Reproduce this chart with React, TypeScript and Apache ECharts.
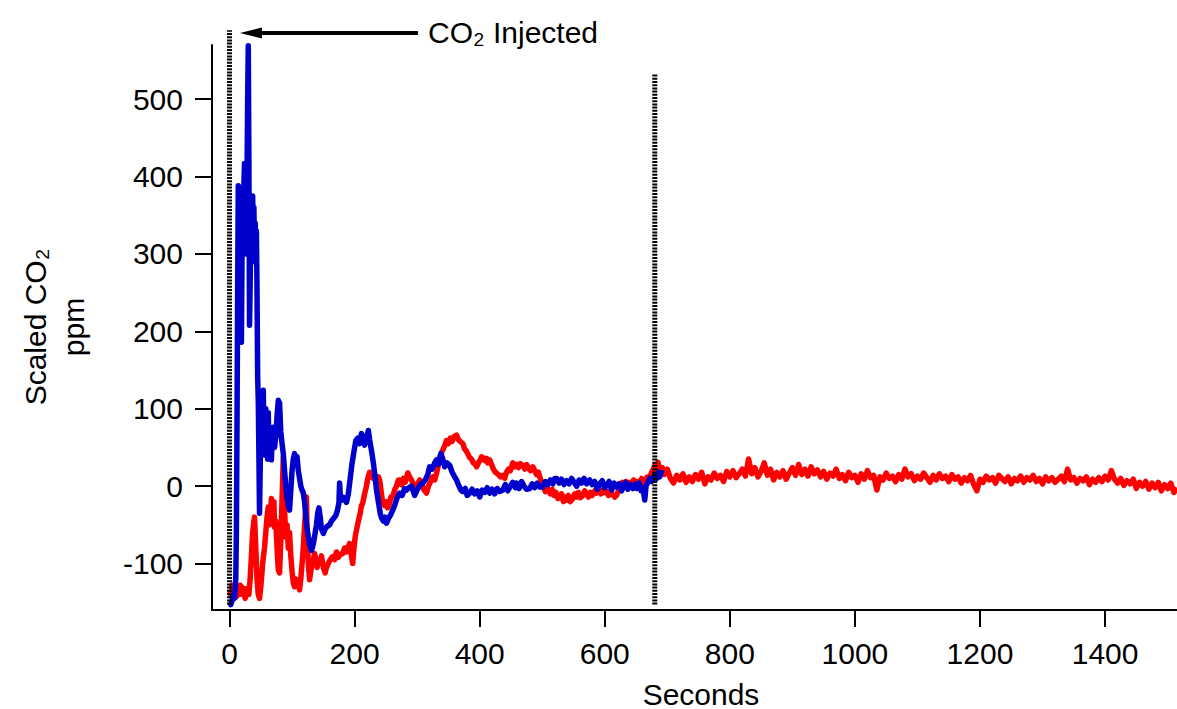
import React, { useEffect, useRef } from "react";
import * as echarts from "echarts";

const xTicks = [0, 200, 400, 600, 800, 1000, 1200, 1400];
const yTicks = [-100, 0, 100, 200, 300, 400, 500];

// Blue trace: [seconds, scaled CO2 ppm]
const blueData: [number, number][] = [
  [0,-150],[2,-153],[4,-148],[6,-140],[8,-145],[10,-120],[11,-60],[12,80],[13,250],[14,388],[15,300],[16,360],[17,250],[18,220],[19,186],[20,300],[21,350],[22,320],[23,390],[24,417],[25,380],[26,410],[27,300],[28,400],[29,500],[30,569],[31,420],[32,208],[33,260],[34,330],[35,300],[36,370],[37,375],[38,330],[39,360],[40,290],[41,340],[42,320],[43,330],[44,250],[45,141],[46,110],[47,40],[48,-35],[49,20],[50,80],[51,110],[52,90],[54,124],[55,60],[56,70],[57,40],[58,100],[59,45],[60,60],[61,35],[62,95],[63,40],[64,50],[65,35],[66,70],[67,34],[68,60],[70,76],[72,50],[74,65],[76,90],[78,111],[79,100],[80,108],[82,70],[84,55],[86,42],[88,20],[90,0],[92,-15],[94,-25],[96,-31],[98,-5],[100,20],[102,35],[104,42],[106,30],[108,38],[110,20],[112,10],[114,0],[116,-5],[118,-9],[120,-20],[122,-40],[124,-55],[126,-65],[128,-75],[130,-80],[131,-83],[133,-78],[135,-70],[137,-60],[139,-50],[141,-35],[143,-28],[145,-40],[147,-55],[150,-61],[153,-55],[156,-52],[160,-50],[163,-45],[166,-42],[170,-38],[173,-30],[175,-21],[176,4],[177,-10],[180,-18],[183,-15],[187,-21],[190,-10],[193,10],[196,30],[199,45],[202,59],[205,62],[208,55],[211,68],[214,60],[216,53],[219,62],[222,72],[224,60],[227,46],[230,30],[233,10],[235,-5],[238,-20],[241,-35],[243,-41],[246,-45],[249,-40],[251,-48],[254,-42],[257,-38],[261,-31],[264,-25],[268,-15],[272,-9],[276,-12],[280,-3],[283,-5],[287,-2],[291,0],[296,-12],[300,-5],[305,2],[309,4],[313,8],[317,15],[320,25],[324,22],[328,30],[331,34],[334,28],[338,42],[341,35],[344,25],[348,30],[352,27],[356,18],[360,12],[363,8],[367,0],[370,-5],[373,-7],[377,-3],[380,-12],[384,-9],[388,-4],[392,-10],[396,-6],[400,-14],[404,-5],[408,-8],[412,-2],[416,-9],[420,-4],[424,-10],[428,-3],[432,-7],[437,-5],[441,2],[445,-6],[449,0],[453,5],[457,-2],[459,4],[463,-3],[467,6],[471,0],[475,-4],[480,-3],[484,3],[488,-2],[492,4],[496,-1],[501,-1],[505,6],[509,2],[513,8],[517,3],[520,10],[523,10],[527,4],[531,9],[535,2],[539,7],[543,3],[547,10],[551,5],[555,0],[559,8],[563,4],[567,10],[571,3],[576,8],[580,2],[584,6],[588,-4],[592,3],[596,7],[600,-2],[603,1],[607,6],[611,-5],[615,4],[619,-1],[623,3],[627,-6],[629,-1],[633,5],[637,-4],[641,2],[645,-3],[649,3],[651,-3],[655,4],[658,-6],[661,-2],[664,-18],[666,0],[669,5],[672,10],[675,6],[678,12],[680,14],[683,10],[686,18],[688,12],[691,21]
];

// Red trace: [seconds, scaled CO2 ppm]
const redData: [number, number][] = [
  [0,-134],[2,-140],[4,-128],[6,-145],[8,-135],[11,-143],[13,-135],[15,-140],[17,-128],[19,-130],[21,-140],[23,-132],[25,-145],[27,-138],[29,-132],[31,-140],[33,-120],[35,-91],[37,-60],[39,-45],[40,-40],[42,-80],[44,-120],[46,-140],[48,-145],[50,-130],[51,-121],[53,-100],[56,-79],[58,-60],[60,-40],[62,-27],[64,-50],[66,-30],[67,-16],[69,-40],[71,-20],[72,-53],[74,-45],[76,-80],[78,-108],[80,-112],[82,-70],[83,-44],[85,10],[86,37],[87,0],[88,-30],[90,-66],[92,-50],[94,-80],[96,-60],[98,-90],[100,-110],[102,-125],[104,-130],[106,-120],[108,-128],[110,-125],[112,-134],[114,-120],[116,-100],[118,-80],[120,-50],[122,-30],[123,-14],[124,-60],[126,-100],[128,-121],[130,-110],[132,-100],[134,-95],[136,-87],[138,-95],[140,-105],[142,-98],[144,-100],[147,-90],[150,-105],[153,-112],[155,-105],[158,-100],[161,-95],[165,-91],[168,-95],[171,-85],[174,-92],[177,-88],[181,-87],[184,-80],[187,-85],[190,-78],[192,-74],[194,-85],[197,-100],[199,-80],[201,-65],[203,-57],[206,-45],[209,-35],[211,-25],[213,-22],[216,-10],[219,0],[221,10],[224,18],[226,12],[228,15],[230,10],[232,14],[235,5],[238,12],[240,8],[243,-10],[245,-22],[248,-25],[251,-20],[253,-28],[256,-22],[258,-14],[261,-14],[264,-5],[267,0],[270,8],[272,8],[275,2],[278,10],[281,5],[285,17],[288,12],[291,8],[293,4],[296,-2],[300,2],[304,8],[307,3],[311,-5],[315,-9],[318,0],[321,5],[325,12],[328,8],[332,20],[336,37],[340,45],[344,52],[347,59],[350,55],[353,62],[356,58],[359,64],[363,66],[366,60],[370,57],[373,55],[376,48],[379,45],[382,40],[384,37],[387,35],[390,30],[393,28],[395,25],[398,30],[401,34],[403,38],[405,37],[408,33],[411,36],[413,30],[416,34],[419,28],[422,22],[425,18],[427,17],[430,15],[433,12],[437,14],[440,10],[443,18],[446,22],[449,20],[453,30],[456,25],[459,28],[462,24],[465,29],[469,27],[472,22],[475,28],[478,24],[481,20],[485,25],[488,20],[491,15],[494,18],[496,12],[499,5],[502,0],[505,-7],[507,-1],[510,-5],[513,-10],[516,-4],[519,-12],[522,-8],[525,-16],[528,-14],[531,-10],[534,-20],[536,-14],[539,-18],[542,-12],[545,-20],[549,-16],[552,-10],[555,-14],[558,-8],[561,-15],[565,-12],[568,-6],[571,-10],[574,-14],[577,-8],[580,-12],[584,-6],[587,-9],[590,-4],[594,-10],[597,-5],[600,-8],[603,-7],[606,-12],[609,-6],[612,-10],[616,-14],[619,-12],[622,-5],[625,0],[628,5],[631,-2],[634,6],[637,2],[640,5],[643,0],[646,8],[649,2],[652,6],[656,5],[659,10],[662,4],[665,8],[668,12],[672,12],[675,18],[678,22],[680,27],[683,20],[685,31],[687,24],[690,18],[692,24],
  [695,15],[700,22],[705,10],[710,4],[715,14],[720,8],[725,16],[730,5],[735,12],[740,6],[745,15],[750,9],[755,18],[760,3],[765,12],[770,8],[775,17],[780,10],[785,14],[790,6],[795,19],[800,12],[805,20],[810,11],[815,16],[820,22],[825,13],[830,35],[835,16],[840,24],[845,12],[850,19],[855,30],[860,14],[865,22],[870,8],[875,18],[880,12],[885,20],[890,9],[895,17],[900,24],[905,14],[910,28],[915,15],[920,22],[925,13],[930,25],[935,16],[940,21],[945,12],[950,19],[955,9],[960,17],[965,13],[970,22],[975,10],[980,15],[985,7],[990,18],[995,11],[1000,14],[1005,5],[1010,16],[1015,9],[1020,20],[1025,11],[1030,14],[1035,-5],[1040,12],[1045,8],[1050,17],[1055,10],[1060,13],[1065,6],[1070,15],[1075,9],[1080,22],[1085,12],[1090,16],[1095,7],[1100,13],[1105,9],[1110,17],[1115,11],[1120,5],[1125,14],[1130,8],[1135,16],[1140,10],[1145,13],[1150,6],[1155,15],[1160,9],[1165,12],[1170,4],[1175,11],[1180,7],[1185,14],[1190,2],[1195,-6],[1200,9],[1205,5],[1210,13],[1215,8],[1220,11],[1225,4],[1230,14],[1235,10],[1240,6],[1245,12],[1250,3],[1255,10],[1260,7],[1265,13],[1270,5],[1275,11],[1280,8],[1285,14],[1290,6],[1295,10],[1300,3],[1305,12],[1310,7],[1315,11],[1320,5],[1325,9],[1330,13],[1335,6],[1340,22],[1345,8],[1350,11],[1355,4],[1360,10],[1365,7],[1370,12],[1375,2],[1380,9],[1385,5],[1390,11],[1395,6],[1400,13],[1405,8],[1410,20],[1415,9],[1420,4],[1425,10],[1430,1],[1435,7],[1440,3],[1445,9],[1450,-3],[1455,5],[1460,0],[1465,6],[1470,-4],[1475,4],[1480,-2],[1485,5],[1490,-6],[1495,2],[1500,-3],[1505,4],[1510,-8],[1515,-2]
];

// Vertical dotted markers (seconds, from ppm to ppm)
const injectLine: [number, number][] = [[0, -153], [0, 589]];
const endLine: [number, number][] = [[680, -153], [680, 533]];

const FONT = '"Liberation Sans", Arial, sans-serif';

export default function App() {
  const ref = useRef<HTMLDivElement>(null);
  useEffect(() => {
    if (!ref.current) return;
    const chart = echarts.init(ref.current, undefined, { renderer: "svg" });
    const dotted = {
      type: "line" as const,
      showSymbol: false,
      clip: false,
      silent: true,
      lineStyle: { color: "#000", width: 5, type: [2, 1.2], cap: "butt" },
      z: 5,
    };
    const fmt = (v: number) => String(v);
    chart.setOption({
      animation: false,
      backgroundColor: "#fff",
      textStyle: { fontFamily: FONT },
      grid: {
        left: 212,
        right: 0,
        top: 45,
        bottom: 99,
        containLabel: false,
        outerBoundsMode: "none",
      },
      xAxis: {
        type: "value",
        min: -28,
        max: 1515,
        axisLine: { show: true, onZero: false, lineStyle: { color: "#000", width: 2 } },
        axisTick: { show: true, length: 17, lineStyle: { color: "#000", width: 2 }, customValues: xTicks },
        axisLabel: { color: "#000", fontSize: 30, fontFamily: FONT, margin: 28, customValues: xTicks, formatter: fmt },
        splitLine: { show: false },
      },
      yAxis: {
        type: "value",
        min: -160,
        max: 570,
        axisLine: { show: true, onZero: false, lineStyle: { color: "#000", width: 2 } },
        axisTick: { show: true, length: 17, lineStyle: { color: "#000", width: 2 }, customValues: yTicks },
        axisLabel: { color: "#000", fontSize: 30, fontFamily: FONT, margin: 29, customValues: yTicks, formatter: fmt },
        splitLine: { show: false },
      },
      series: [
        {
          name: "red",
          type: "line",
          data: redData,
          showSymbol: false,
          lineStyle: { color: "#ff0000", width: 5.5, join: "round" },
          z: 2,
        },
        {
          name: "blue",
          type: "line",
          data: blueData,
          showSymbol: false,
          lineStyle: { color: "#0000cc", width: 5.5, join: "round" },
          z: 3,
        },
        { ...dotted, name: "inject", data: injectLine },
        { ...dotted, name: "end", data: endLine },
      ],
      graphic: [
        {
          type: "line",
          shape: { x1: 418, y1: 33, x2: 255, y2: 33 },
          style: { stroke: "#000", lineWidth: 4 },
        },
        {
          type: "polygon",
          shape: { points: [[240, 33], [262, 27.5], [262, 38.5]] },
          style: { fill: "#000" },
        },
        {
          type: "text",
          x: 428,
          y: 32,
          style: {
            text: "CO₂ Injected",
            fontSize: 30,
            fontFamily: FONT,
            fill: "#000",
            verticalAlign: "middle",
            align: "left",
          },
        },
        {
          type: "text",
          x: 701,
          y: 694,
          style: {
            text: "Seconds",
            fontSize: 30,
            fontFamily: FONT,
            fill: "#000",
            verticalAlign: "middle",
            align: "center",
          },
        },
        {
          type: "text",
          x: 54,
          y: 327,
          rotation: Math.PI / 2,
          style: {
            text: "Scaled CO₂\nppm",
            fontSize: 30,
            fontFamily: FONT,
            fill: "#000",
            align: "center",
            verticalAlign: "middle",
            lineHeight: 38,
          },
        },
      ],
    });
    return () => chart.dispose();
  }, []);
  return (
    <div
      ref={ref}
      style={{ position: "absolute", left: 0, top: 0, width: 1177, height: 709 }}
    />
  );
}
